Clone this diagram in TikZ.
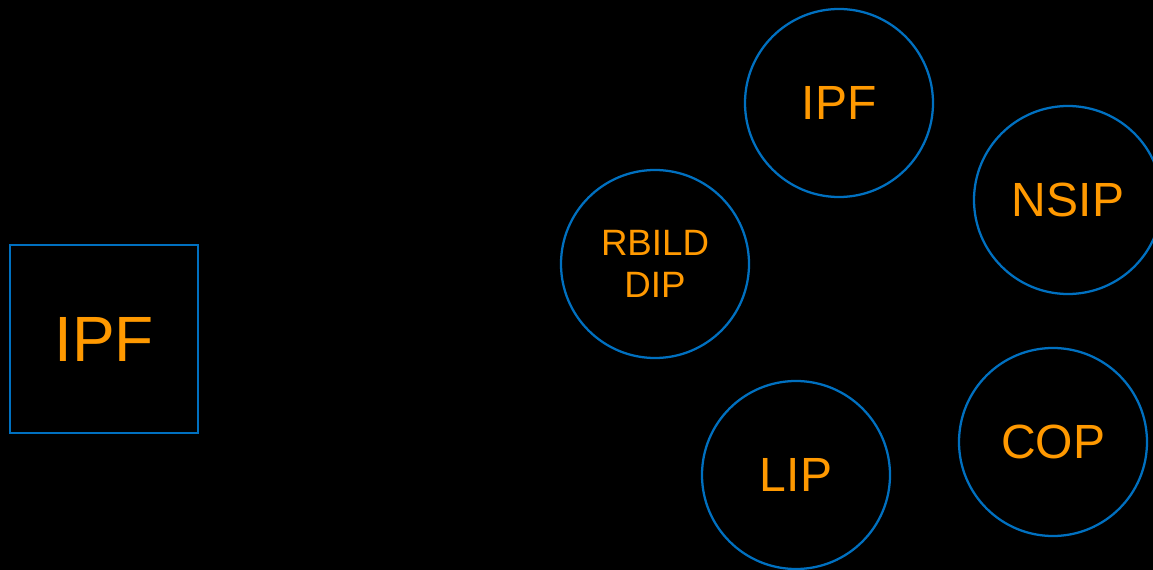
\documentclass[tikz,border=0pt]{standalone}
\usepackage{fontspec}
\setmainfont{Liberation Sans}
\usepackage{xcolor}
\usepackage{tikz}
\usetikzlibrary{positioning}
\definecolor{ringblue}{HTML}{0070C0}
\definecolor{labelorange}{HTML}{FF9900}

\begin{document}
\begin{tikzpicture}[x=0.75pt, y=-0.75pt,
    unit/.style={draw=ringblue, line width=1.7pt, text=labelorange, inner sep=0pt},
    ring/.style={unit, circle, minimum size=141pt, font=\fontsize{36}{43}\selectfont},
    frame/.style={unit, rectangle, minimum size=141pt, font=\fontsize{48}{58}\selectfont}]
        \fill[black] (0,0) rectangle (1153,570);
        \useasboundingbox (0,0) rectangle (1153,570);
        \clip (0,0) rectangle (1153,570);

        % Left block
        \node [frame] (ipfbox) at (104,339) {IPF};

        % Ring of modules
        \node [ring] (ipf) at (839,103) {\raisebox{-1pt}{IPF}};
        \node [ring] (nsip) at (1068,200) {\raisebox{-1pt}{NSIP}};
        \node [ring, align=center, font=\fontsize{27.5}{32}\selectfont] (rbild) at (655,264) {RBILD\\DIP};
        \node [ring] (lip) at (796,475) {\raisebox{-1pt}{LIP}};
        \node [ring] (cop) at (1053,442) {\raisebox{-1pt}{COP}};
    \end{tikzpicture}
\end{document}
